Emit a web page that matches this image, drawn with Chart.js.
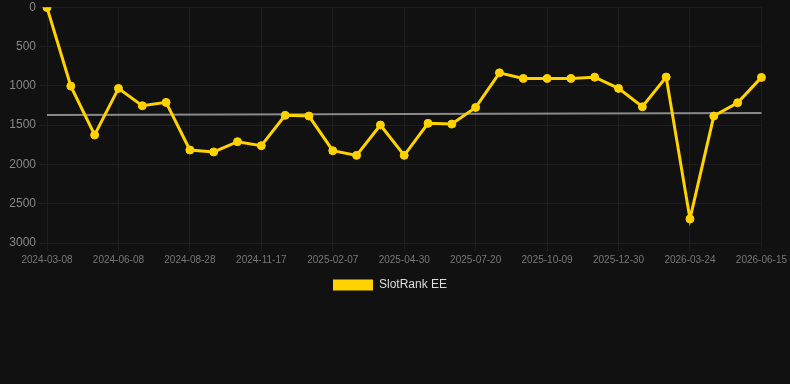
<!DOCTYPE html>
<html>
<head>
<meta charset="utf-8">
<script src="https://cdn.jsdelivr.net/npm/chart.js@4"></script>
<style>
  html, body { margin: 0; padding: 0; background: #111111; overflow: hidden; }
  #wrap { width: 790px; height: 304px; position: relative; margin-top: -3px; }
</style>
</head>
<body>
<div id="wrap"><canvas id="chart"></canvas></div>
<script>
// ---------------- DATA ----------------
const dates = [
  "2024-03-08", "2024-04-08", "2024-05-08", "2024-06-08", "2024-07-05", "2024-08-01",
  "2024-08-28", "2024-09-24", "2024-10-21", "2024-11-17", "2024-12-14", "2025-01-10",
  "2025-02-07", "2025-03-07", "2025-04-03", "2025-04-30", "2025-05-27", "2025-06-23",
  "2025-07-20", "2025-08-16", "2025-09-12", "2025-10-09", "2025-11-05", "2025-12-03",
  "2025-12-30", "2026-01-27", "2026-02-24", "2026-03-24", "2026-04-20", "2026-05-18",
  "2026-06-15"
];

const rankValues = [
  4, 1004, 1626, 1033, 1254, 1211, 1817, 1842, 1711, 1762, 1376, 1385,
  1826, 1885, 1499, 1885, 1478, 1487, 1275, 835, 906, 906, 906, 890,
  1033, 1267, 889, 2694, 1385, 1216, 893
];

// trend line: only start and end values
const trendStart = 1372;
const trendEnd = 1347;
const trendValues = dates.map((d, i) =>
  i === 0 ? trendStart : (i === dates.length - 1 ? trendEnd : null));

const yTicks = [0, 500, 1000, 1500, 2000, 2500, 3000];

// ---------------- CHART ----------------
const ctx = document.getElementById("chart");
const gridCol = "#1e1e1e";

// nudge legend a little left, like the original
const legendShift = {
  id: "legendShift",
  afterLayout(chart) {
    chart.legend.left -= 5;
    chart.legend.right -= 5;
  }
};

new Chart(ctx, {
  type: "line",
  data: {
    labels: dates,
    datasets: [
      {
        label: "SlotRank EE",
        data: rankValues,
        borderColor: "#ffd200",
        backgroundColor: "#ffd200",
        borderWidth: 3,
        pointRadius: 4,
        pointBorderWidth: 1,
        pointHoverRadius: 5,
        tension: 0
      },
      {
        label: "trend",
        data: trendValues,
        borderColor: "#8a8a8a",
        borderWidth: 2,
        pointRadius: 0,
        spanGaps: true
      }
    ]
  },
  options: {
    responsive: true,
    maintainAspectRatio: false,
    animation: false,
    scales: {
      x: {
        grid: {
          color: c => (c.index % 3 === 0 ? gridCol : "rgba(0,0,0,0)")
        },
        border: { color: gridCol },
        ticks: {
          color: "#777",
          font: { family: "Liberation Sans, Arial", size: 10 },
          maxRotation: 0,
          autoSkip: false,
          callback: function (val, i) {
            return i % 3 === 0 ? dates[i] : "";
          }
        }
      },
      y: {
        reverse: true,
        min: yTicks[0],
        max: yTicks[yTicks.length - 1],
        grid: { color: gridCol },
        border: { color: gridCol },
        afterBuildTicks: function (axis) {
          axis.ticks = yTicks.map(v => ({ value: v }));
        },
        afterFit: function (axis) {
          axis.width = 47;
        },
        ticks: {
          color: "#888",
          font: { family: "Liberation Sans, Arial", size: 12 },
          callback: v => String(v)
        }
      }
    },
    plugins: {
      legend: {
        position: "bottom",
        labels: {
          color: "#dddddd",
          font: { family: "Liberation Sans, Arial", size: 12 },
          boxWidth: 40,
          boxHeight: 11,
          generateLabels: chart =>
            Chart.defaults.plugins.legend.labels.generateLabels(chart)
              .filter(l => l.datasetIndex === 0)
              .map(l => Object.assign(l, { lineWidth: 0 }))
        }
      },
      tooltip: { enabled: false }
    }
  },
  plugins: [legendShift]
});
</script>
</body>
</html>
